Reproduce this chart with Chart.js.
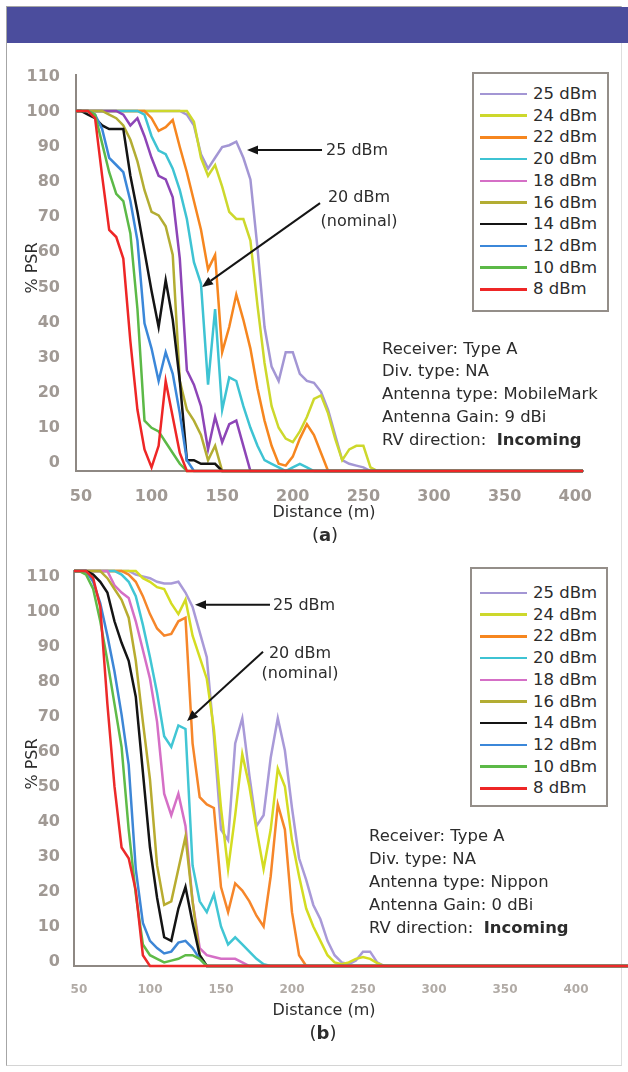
<!DOCTYPE html>
<html>
<head>
<meta charset="utf-8">
<script src="https://cdn.jsdelivr.net/npm/chart.js@4.4.1/dist/chart.umd.min.js"></script>
<style>
  body { margin: 0; background: #fff; font-family: "DejaVu Sans", sans-serif; color: #2c2c2c; }
  #page { position: relative; width: 628px; height: 1072px; overflow: hidden; background: #fff; }
  .frame { position: absolute; left: 6px; top: 6px; width: 616px; height: 1060px; box-sizing: border-box;
           border: 1.5px solid #a6a6a6; border-right-color: #dedede; border-bottom-color: #d4d4d4; }
  .band { position: absolute; left: 7px; top: 7px; width: 621px; height: 36px; background: #4b4d9d; }
  canvas { position: absolute; left: 0; }
  .legend { position: absolute; box-sizing: border-box; border: 2px solid #948e89; background: #fff; }
  .legend .swatch { position: absolute; height: 2.5px; width: 47px; }
  .legend .name { position: absolute; font-size: 16.5px; line-height: 20px; white-space: nowrap; }
  .txt { position: absolute; font-size: 16px; line-height: 20px; white-space: nowrap; }
  .note { position: absolute; font-size: 16.4px; white-space: nowrap; }
  .ylab { position: absolute; font-size: 16px; line-height: 20px; width: 80px; text-align: center;
          transform: rotate(-90deg); }
</style>
</head>
<body>
<div id="page">
  <div class="frame"></div>
  <div class="band"></div>

  <canvas id="chartA" width="628" height="470" style="top:50px"></canvas>
  <canvas id="chartB" width="628" height="480" style="top:540px"></canvas>

  <div class="legend" id="legendA" style="left:472px; top:72px; width:137px; height:240px"></div>
  <div class="legend" id="legendB" style="left:470px; top:567px; width:138px; height:240px"></div>

  <!-- run (a) labels -->
  <div class="ylab" style="left:-8px; top:258px">% PSR</div>
  <div class="txt" style="left:224px; top:502px; width:200px; text-align:center">Distance (m)</div>
  <div class="txt" style="left:285px; top:524px; width:80px; text-align:center; font-size:18px; line-height:22px">(<b>a</b>)</div>
  <div class="txt" style="left:326px; top:140px">25 dBm</div>
  <div class="txt" style="left:319px; top:185px; width:80px; text-align:center; line-height:24px">20 dBm<br>(nominal)</div>
  <div class="note" style="left:382px; top:337.5px; line-height:22.75px">
    Receiver: Type A<br>Div. type: NA<br>Antenna type: MobileMark<br>Antenna Gain: 9 dBi<br>RV direction:&nbsp; <b>Incoming</b>
  </div>

  <!-- run (b) labels -->
  <div class="ylab" style="left:-8px; top:754px">% PSR</div>
  <div class="txt" style="left:224px; top:1000px; width:200px; text-align:center">Distance (m)</div>
  <div class="txt" style="left:283px; top:1022px; width:80px; text-align:center; font-size:18px; line-height:22px">(<b>b</b>)</div>
  <div class="txt" style="left:273px; top:595px">25 dBm</div>
  <div class="txt" style="left:260px; top:643px; width:80px; text-align:center">20 dBm<br>(nominal)</div>
  <div class="note" style="left:369px; top:823.5px; line-height:23px">
    Receiver: Type A<br>Div. type: NA<br>Antenna type: Nippon<br>Antenna Gain: 0 dBi<br>RV direction:&nbsp; <b>Incoming</b>
  </div>
</div>

<script>
// Sample distances (m); every run shares this grid
const distance = [45, 50, 55, 60, 65, 70, 75, 80, 85, 90, 95, 100, 105, 110, 115, 120, 125, 130,
  135, 140, 145, 150, 155, 160, 165, 170, 175, 180, 185, 190, 195, 200, 205, 210, 215, 220, 225,
  230, 235, 240, 245, 250, 255, 260, 265];
const rangeEndA = 405.5;   // last distance logged in run (a)
const rangeEndB = 436.6;   // last distance logged in run (b)

const powerLabels = ['25 dBm', '24 dBm', '22 dBm', '20 dBm', '18 dBm', '16 dBm', '14 dBm', '12 dBm', '10 dBm', '8 dBm'];
const xTicks = [50, 100, 150, 200, 250, 300, 350, 400];
const yTicks = [0, 10, 20, 30, 40, 50, 60, 70, 80, 90, 100, 110];

// Run (a): MobileMark antenna, % PSR per distance sample
const psrA_25 = [100, 100, 100, 100, 100, 100, 100, 100, 100, 100, 100, 100, 100, 100, 100, 100,
  99, 96, 88, 84, 87, 90, 90.5, 91.5, 87, 81, 62, 40, 29, 25, 33, 33, 27, 25, 24.5, 22, 17, 10, 3, 2, 1.5, 1, 0];
const psrA_24 = [100, 100, 100, 100, 100, 100, 100, 100, 100, 100, 100, 100, 100, 100, 100, 100, 100,
  97, 87, 82, 85, 79, 72, 70, 70, 64, 46, 30, 18, 12, 9, 8, 11, 15, 20, 21, 16, 9, 3, 6, 7, 7, 1, 0];
const psrA_22 = [100, 100, 100, 100, 100, 100, 100, 100, 100, 100, 100,
  98, 94.5, 95.5, 97.5, 90, 83, 75, 67, 56, 60, 33, 40, 49, 42, 34, 23, 14, 7, 2, 1.5, 4, 9, 13, 10, 5, 0];
const psrA_20 = [100, 100, 100, 100, 100, 100, 100, 100, 100, 100,
  99, 93, 89, 88, 84, 78, 70, 58, 52, 24, 45, 17, 26, 25, 18, 12, 7, 3, 2, 1, 0, 1, 2, 1, 0];
const psrA_18 = [100, 100, 100, 100, 100, 100, 100, 99, 96, 98, 93, 87, 82, 81, 76, 59, 28, 24, 18, 6, 15, 8, 13, 14, 7, 0];
const psrA_16 = [100, 100, 100, 100, 100, 99, 98, 96, 92, 86, 78, 72, 71, 68, 60, 25, 17, 14, 10, 3, 7, 0];
const psrA_14 = [100, 100, 99, 98, 96, 95, 95, 95, 82, 72, 61, 50, 40, 53, 42, 25, 3, 3, 2, 2, 2, 0];
const psrA_12 = [100, 100, 100, 99, 95, 87, 85, 83, 75, 64, 41, 34, 25, 33, 27, 16, 3, 0];
const psrA_10 = [100, 100, 100, 99, 91, 83, 77, 75, 66, 45, 14, 12, 11, 8, 5, 2, 0];
const psrA_8 = [100, 100, 100, 98, 82, 67, 65, 59, 36, 17, 6, 1, 7, 25, 15, 5, 0];

// Run (b): Nippon antenna
const psrB_25 = [110, 110, 110, 110, 110, 110, 110, 110, 110,
  109, 108.5, 108, 107, 106.5, 106.5, 107, 104, 100, 93, 86, 64, 38, 35, 62, 69, 53, 39, 42, 58, 69, 60,
  44, 30, 24, 17, 13, 7, 3, 1, 0.5, 1.5, 4, 4, 1, 0];
const psrB_24 = [110, 110, 110, 110, 110, 110, 110, 110, 110, 110,
  108, 107, 105.5, 105, 101, 98, 102, 92, 86, 80, 66, 44, 27, 42, 59, 50, 38, 27, 38, 55, 50, 35, 25,
  16, 11, 7, 3, 1, 0.5, 1, 2, 2.5, 2, 0.8, 0];
const psrB_22 = [110, 110, 110, 110, 110, 110, 110, 110,
  109, 107, 103, 98, 94, 92, 92.5, 96, 97, 62, 47, 45, 44, 22, 15, 23, 21, 18, 14, 11, 25, 45, 38, 15, 3, 0];
const psrB_20 = [110, 110, 110, 110, 110, 110, 110,
  109, 107, 103, 95, 86, 76, 64, 61, 67, 66, 28, 18, 15, 20, 11, 6, 8, 6, 4, 2, 0.5, 0];
const psrB_18 = [110, 110, 110, 110, 110, 110, 106, 104, 102.5, 96, 88, 80, 68, 48, 42, 48, 39, 18, 5, 3, 2.5, 2, 2, 2, 1, 0];
const psrB_16 = [110, 110, 110, 110, 110, 108, 105, 102, 97, 85, 68, 52, 28, 17, 18, 27, 36, 18, 3, 0];
const psrB_14 = [110, 110, 110, 109, 107, 104, 96, 90, 85, 75, 54, 33, 19, 8, 7, 16, 22, 12, 3, 0];
const psrB_12 = [110, 110, 110, 107, 101, 92, 82, 70, 56, 27, 12, 7, 5, 3.5, 4, 6.5, 7, 5, 2, 0];
const psrB_10 = [110, 110, 109, 105, 96, 85, 73, 61, 38, 20, 6, 3, 2, 1, 1.5, 2, 3, 3, 2, 0];
const psrB_8 = [110, 110, 110, 108, 100, 73, 50, 33, 30, 21, 3, 0];

const colorsA = ['#a396d4', '#cdd82c', '#f6861f', '#3ec3d3', '#8d45b7', '#b3ad33', '#141414', '#3b87d9', '#5cb947', '#ee2626'];
const colorsB = ['#a99ad8', '#d4dc22', '#f6862a', '#41c6d4', '#d56fc6', '#b8ac30', '#141414', '#3d86d6', '#5fbb48', '#ec2a2a'];
const legendColors = ['#a396d4', '#cdd82c', '#f6861f', '#3ec3d3', '#d56fc6', '#b3ad33', '#141414', '#3b87d9', '#5cb947', '#ee2626'];

// Callout arrows in (distance, %PSR) units: from label to curve
const arrowsA = [
  { from: [220.7, 89.2], to: [167.6, 89.2] },
  { from: [219.3, 74.4], to: [135.7, 51.1] }
];
const arrowsB = [
  { from: [184.5, 100.6], to: [131.7, 100.6] },
  { from: [179.6, 87.5], to: [126.1, 68.2] }
];

const axisGray = '#8e8883';
const fontFamily = '"DejaVu Sans", sans-serif';

function toPoints(values, end) {
  const pts = values.map((v, i) => ({ x: distance[i], y: v }));
  pts.push({ x: end, y: values[values.length - 1] });
  return pts;
}

const arrowPlugin = {
  id: 'arrows',
  afterDatasetsDraw(chart, args, opts) {
    const { ctx, scales } = chart;
    ctx.save();
    ctx.strokeStyle = '#151515';
    ctx.fillStyle = '#151515';
    ctx.lineWidth = 2;
    (opts.items || []).forEach(a => {
      const x0 = scales.x.getPixelForValue(a.from[0]);
      const y0 = scales.y.getPixelForValue(a.from[1]);
      const x1 = scales.x.getPixelForValue(a.to[0]);
      const y1 = scales.y.getPixelForValue(a.to[1]);
      const ang = Math.atan2(y1 - y0, x1 - x0);
      const head = 11, half = 4.5;
      const bx = x1 - head * Math.cos(ang), by = y1 - head * Math.sin(ang);
      ctx.beginPath();
      ctx.moveTo(x0, y0);
      ctx.lineTo(bx, by);
      ctx.stroke();
      ctx.beginPath();
      ctx.moveTo(x1, y1);
      ctx.lineTo(bx + half * Math.sin(ang), by - half * Math.cos(ang));
      ctx.lineTo(bx - half * Math.sin(ang), by + half * Math.cos(ang));
      ctx.closePath();
      ctx.fill();
    });
    ctx.restore();
  }
};

function makeChart(id, o) {
  // 8 dBm gets the lowest order so it is painted last, on top
  const datasets = powerLabels.map((label, i) => ({
    label,
    data: toPoints(o.series[i], o.rangeEnd),
    borderColor: o.colors[i],
    borderWidth: 2.5,
    pointRadius: 0,
    tension: 0,
    fill: false,
    order: powerLabels.length - 1 - i,
    // let the flat 0 % and top lines show their full width on the axes
    clip: { left: 0, right: 3, top: 3, bottom: 3 }
  }));

  return new Chart(document.getElementById(id), {
    type: 'line',
    data: { datasets },
    options: {
      responsive: false,
      animation: false,
      events: [],
      layout: { padding: o.padding },
      plugins: {
        legend: { display: false },
        tooltip: { enabled: false },
        arrows: { items: o.arrows }
      },
      scales: {
        x: {
          type: 'linear',
          min: 46.5,
          max: o.rangeEnd,
          grid: { display: false },
          border: { display: true, color: axisGray, width: 2, z: -1 },
          afterBuildTicks: s => { s.ticks = xTicks.map(v => ({ value: v })); },
          afterFit: s => { s.height = 30; },
          ticks: {
            autoSkip: false, maxRotation: 0, padding: o.xTickPad, color: o.xTickColor,
            font: { family: fontFamily, size: o.xTickSize, weight: 'bold' }
          }
        },
        y: {
          min: 0,
          max: 110,
          weight: 0,
          grid: { display: false },
          border: { display: true, color: axisGray, width: 2, z: -1 },
          ticks: { display: false },
          afterFit: s => { s.width = 0; }
        },
        // tick labels sit on their own slightly compressed scale
        yLabels: {
          axis: 'y',
          position: 'left',
          weight: 1,
          min: o.labelRange[0],
          max: o.labelRange[1],
          grid: { display: false },
          border: { display: false },
          afterBuildTicks: s => { s.ticks = yTicks.map(v => ({ value: v })); },
          afterFit: s => { s.width = 60; },
          ticks: {
            padding: o.yTickPad, color: '#a09994',
            font: { family: fontFamily, size: 16, weight: 'bold' }
          }
        }
      }
    },
    plugins: [arrowPlugin]
  });
}

function buildLegend(elId, firstRow, left) {
  const box = document.getElementById(elId);
  powerLabels.forEach((label, i) => {
    const cy = firstRow + i * 21.7;
    const sw = document.createElement('div');
    sw.className = 'swatch';
    sw.style.left = left + 'px';
    sw.style.top = (cy - 1.25) + 'px';
    sw.style.background = legendColors[i];
    box.appendChild(sw);
    const name = document.createElement('div');
    name.className = 'name';
    name.style.left = (left + 53) + 'px';
    name.style.top = (cy - 10) + 'px';
    name.textContent = label;
    box.appendChild(name);
  });
}

makeChart('chartA', {
  series: [psrA_25, psrA_24, psrA_22, psrA_20, psrA_18, psrA_16, psrA_14, psrA_12, psrA_10, psrA_8],
  colors: colorsA,
  rangeEnd: rangeEndA,
  arrows: arrowsA,
  padding: { left: 16, right: 45, top: 25, bottom: 19 },
  labelRange: [-2.3, 110.5],
  yTickPad: 8,
  xTickPad: 8,
  xTickSize: 16,
  xTickColor: '#a09994'
});

makeChart('chartB', {
  series: [psrB_25, psrB_24, psrB_22, psrB_20, psrB_18, psrB_16, psrB_14, psrB_12, psrB_10, psrB_8],
  colors: colorsB,
  rangeEnd: rangeEndB,
  arrows: arrowsB,
  padding: { left: 14, right: 0, top: 31, bottom: 24 },
  labelRange: [-1.1, 111.7],
  yTickPad: 6,
  xTickPad: 9,
  xTickSize: 12,
  xTickColor: '#b1aba6'
});

buildLegend('legendA', 20, 6);
buildLegend('legendB', 24, 8);
</script>
</body>
</html>
